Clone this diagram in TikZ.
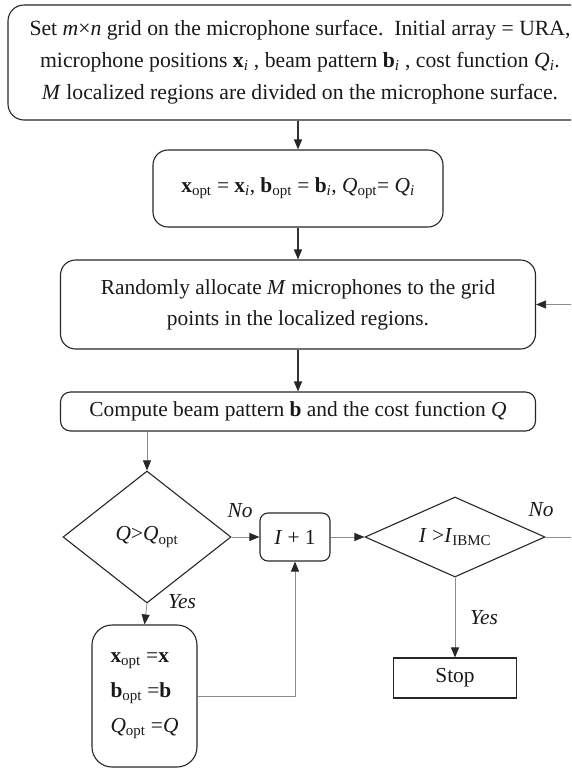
\documentclass[tikz,border=0pt]{standalone}
\usepackage{fontspec}
\setmainfont{Liberation Serif}
\usetikzlibrary{shapes.geometric,arrows.meta}
\newcommand{\mysub}[1]{\textsubscript{#1}}
\begin{document}
\begin{tikzpicture}[x=1pt,y=-1pt,
  every node/.style={font=\fontsize{21.4}{31}\selectfont, text=black!90},
  rbox/.style={draw=black!85, line width=1.1pt, rounded corners=#1, inner sep=0pt, align=center},
  dia/.style={draw=black!85, line width=1.1pt, diamond, inner sep=0pt},
  darkarrow/.style={draw=black!80, line width=1.1pt, -{Triangle[length=10pt,width=8pt,color=black!85]}},
  grayarrow/.style={draw=black!45, line width=0.8pt, -{Triangle[length=10pt,width=8pt,color=black!85]}},
  lab/.style={font=\fontsize{21.4}{25}\selectfont\itshape, inner sep=0pt}
  ]
\useasboundingbox (0,0) rectangle (571,769);
\clip (0,0) rectangle (571,769);

\node[rbox=16pt, minimum width=584pt, minimum height=115pt, font=\fontsize{21.7}{32}\selectfont] (top) at (300,62.5)
  {Set \textit{m}×\textit{n} grid on the microphone surface.\ \ Initial array = URA,\\
   microphone positions \textbf{x}\mysub{\textit{i}} , beam pattern \textbf{b}\mysub{\textit{i}} , cost function \textit{Q}\mysub{\textit{i}}.\\
   \textit{M} localized regions are divided on the microphone surface.};

\node[rbox=15pt, minimum width=290pt, minimum height=77pt] (init) at (298,188.5)
  {\textbf{x}\mysub{opt} = \textbf{x}\mysub{\textit{i}}, \textbf{b}\mysub{opt} = \textbf{b}\mysub{\textit{i}}, \textit{Q}\mysub{opt}= \textit{Q}\mysub{\textit{i}}};

\node[rbox=15pt, minimum width=475pt, minimum height=89pt] (rand) at (298,304.5)
  {Randomly allocate \textit{M} microphones to the grid\\ points in the localized regions.};

\node[rbox=10pt, minimum width=475pt, minimum height=39pt] (comp) at (298,411.5)
  {Compute beam pattern \textbf{b} and the cost function \textit{Q}};

\node[dia, minimum width=168pt, minimum height=132pt, shape aspect=1.27] (d1) at (147,537)
  {\textit{Q}>\textit{Q}\mysub{opt}};

\node[rbox=8pt, minimum width=70pt, minimum height=48pt] (inc) at (295,537)
  {\textit{I} + 1};

\node[dia, minimum width=180pt, minimum height=80pt, shape aspect=2.25] (d2) at (455,537)
  {\textit{I} >\textit{I}\mysub{IBMC}};

\node[draw=black!85, line width=1.1pt, minimum width=123pt, minimum height=40pt, inner sep=0pt] (stop) at (455,678)
  {Stop};

\node[rbox=20pt, minimum width=105pt, minimum height=142pt, align=left, font=\fontsize{21.4}{35}\selectfont] (b3) at (144.5,696)
  {\textbf{x}\mysub{opt} =\textbf{x}\\ \textbf{b}\mysub{opt} =\textbf{b}\\ \textit{Q}\mysub{opt} =\textit{Q}};

\coordinate (loopc) at (620,537);

\draw[darkarrow] (top.south -| init.north) -- (init.north);
\draw[darkarrow] (init) -- (rand);
\draw[darkarrow] (rand) -- (comp);
\draw[grayarrow] (comp.south -| d1.north) -- (d1.north);
\draw[grayarrow] (d1.east) -- (inc.west);
\draw[grayarrow] (inc.east) -- (d2.west);
\draw[grayarrow] (d1.south) -- (b3.north);
\draw[grayarrow] (b3.east) -| (inc.south);
\draw[grayarrow] (d2.south) -- (stop.north);
\draw[grayarrow] (d2.east) -- (loopc) |- (rand.east);

\node[lab] (no1) at (240,511) {No};
\node[lab] (no2) at (541,510) {No};
\node[lab] (yes1) at (182,602) {Yes};
\node[lab] (yes2) at (484,618) {Yes};
\end{tikzpicture}
\end{document}
